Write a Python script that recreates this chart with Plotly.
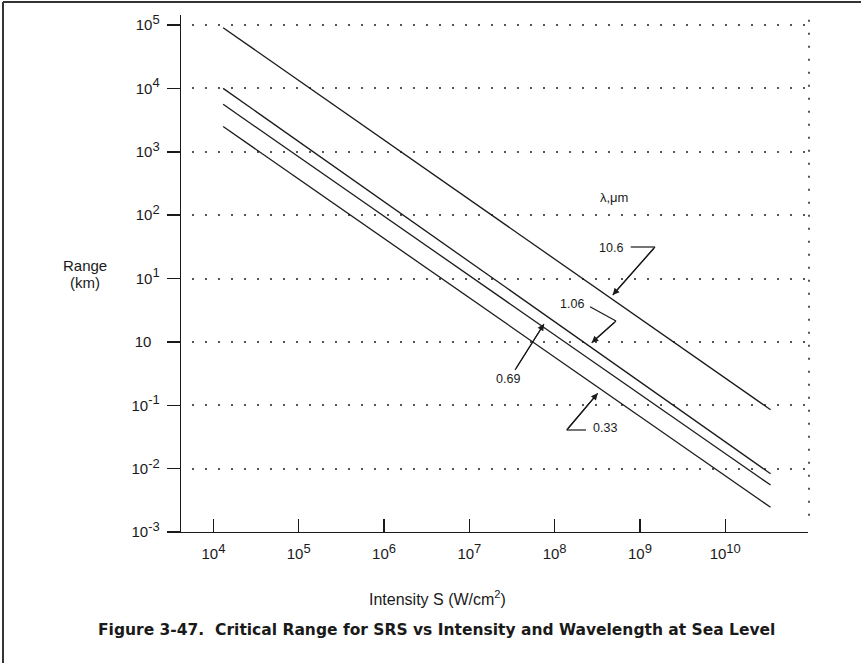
import plotly.graph_objects as go

# ---------------- data ----------------
wavelength_labels = ["10.6", "1.06", "0.69", "0.33"]
intensity = [1.3e4, 3.4e10]                 # W/cm^2, start / end of each line
range_10_6 = [9.06e4, 0.085]                # km
range_1_06 = [1.0e4, 0.0083]
range_0_69 = [5.6e3, 0.0055]
range_0_33 = [2.5e3, 0.00245]

y_tickvals = [1e5, 1e4, 1e3, 1e2, 1e1, 1e0, 1e-1, 1e-2, 1e-3]
y_exponents = ["5", "4", "3", "2", "1", None, "-1", "-2", "-3"]
x_tickvals = [1e4, 1e5, 1e6, 1e7, 1e8, 1e9, 1e10]
x_exponents = ["4", "5", "6", "7", "8", "9", "10"]


def pow_label(e):
    if e is None:
        return "10  "
    return "10<sup><span style='font-size:13px'>%s</span></sup>" % e


y_ticktext = [pow_label(e) for e in y_exponents]
x_ticktext = [pow_label(e) for e in x_exponents]

# ---------------- layout geometry ----------------
W, H = 861, 663
L, R, T, B = 181, 808, 15, 532
FONT = "Liberation Sans, Arial, Helvetica, sans-serif"
INK = "#1a1a1a"


def px(x):
    return (x - L) / (R - L)


def py(y):
    return (B - y) / (B - T)


fig = go.Figure()
series = [range_10_6, range_1_06, range_0_69, range_0_33]
for name, rng in zip(wavelength_labels, series):
    fig.add_trace(go.Scatter(x=intensity, y=rng, mode="lines", name=name,
                             line=dict(color=INK, width=1.3),
                             hoverinfo="skip"))

shapes = []
annotations = []


def seg(pts):
    for (x0, y0), (x1, y1) in zip(pts[:-1], pts[1:]):
        shapes.append(dict(type="line", xref="paper", yref="paper",
                           x0=px(x0), y0=py(y0), x1=px(x1), y1=py(y1),
                           line=dict(color=INK, width=1.2)))


def arrow(tail, head):
    annotations.append(dict(xref="paper", yref="paper", x=px(head[0]), y=py(head[1]),
                            ax=tail[0] - head[0], ay=tail[1] - head[1],
                            text="", showarrow=True, arrowhead=2, arrowsize=1.1,
                            arrowwidth=1.2, arrowcolor=INK, standoff=0,
                            startstandoff=0))


def label(text, x, y, size=12.5, family=FONT, **kw):
    d = dict(xref="paper", yref="paper", x=px(x), y=py(y), text=text,
             showarrow=False, font=dict(family=family, size=size, color=INK),
             xanchor="center", yanchor="middle")
    d.update(kw)
    annotations.append(d)


# leader lines with arrows
seg([(630.7, 247), (655, 247), (612.7, 295)])
arrow((655, 247), (612.7, 295))
seg([(590, 306.7), (616, 321), (591.7, 342.7)])
arrow((616, 321), (591.7, 342.7))
seg([(515, 370), (544, 324)])
arrow((515, 370), (544, 324))
seg([(586, 430), (566.7, 430), (597.7, 393.3)])
arrow((566.7, 430), (597.7, 393.3))

label("λ,μm", 614, 197, size=13)
label("10.6", 611, 248)
label("1.06", 572, 304)
label("0.69", 508, 379)
label("0.33", 605, 428)

# axis titles and caption
label("Range", 85, 265, size=15)
label("(km)", 85, 282, size=15)
label("Intensity S (W/cm<sup>2</sup>)", 437, 598, size=16)
label("<b>Figure 3-47.  Critical Range for SRS vs Intensity and Wavelength at Sea Level</b>",
      436, 630, size=15.5, family="DejaVu Sans, Liberation Sans, sans-serif")

# right dotted boundary
shapes.append(dict(type="line", xref="paper", yref="paper", x0=px(809), x1=px(809),
                   y0=0.01, y1=1, line=dict(color="#555555", width=2,
                                            dash="0px,11px,2px,0px")))
# outer frame (left and top edges)
shapes.append(dict(type="line", xref="paper", yref="paper", x0=px(3), x1=px(3),
                   y0=py(H + 5), y1=py(2), line=dict(color="#333333", width=2)))
shapes.append(dict(type="line", xref="paper", yref="paper", x0=px(3), x1=px(W + 5),
                   y0=py(2), y1=py(2), line=dict(color="#333333", width=2)))

fig.update_layout(
    width=W, height=H,
    margin=dict(l=L, r=W - R, t=T, b=H - B, pad=0),
    paper_bgcolor="white", plot_bgcolor="white",
    showlegend=False,
    font=dict(family=FONT, color=INK),
    shapes=shapes, annotations=annotations,
    xaxis=dict(type="log", range=[3.62, 10.97], tickmode="array",
               tickvals=x_tickvals, ticktext=x_ticktext,
               ticks="inside", ticklen=13, tickwidth=1.3, tickcolor=INK,
               showline=True, linecolor=INK, linewidth=1.3,
               showgrid=False, zeroline=False,
               tickfont=dict(family=FONT, size=15, color=INK),
               ticklabelstandoff=8),
    yaxis=dict(type="log", range=[-3, 5.158], tickmode="array",
               tickvals=y_tickvals, ticktext=y_ticktext,
               ticks="outside", ticklen=13, tickwidth=1.5, tickcolor=INK,
               showline=True, linecolor=INK, linewidth=1.3,
               showgrid=True, gridcolor="#555555", gridwidth=2,
               griddash="0px,11px,2px,0px",
               zeroline=False,
               tickfont=dict(family=FONT, size=15, color=INK),
               ticklabelstandoff=4),
)

fig.write_html("out.html",
               config={"displayModeBar": False, "staticPlot": True},
               post_script="document.body.style.margin='0px';"
                           "document.body.style.overflow='hidden';")
